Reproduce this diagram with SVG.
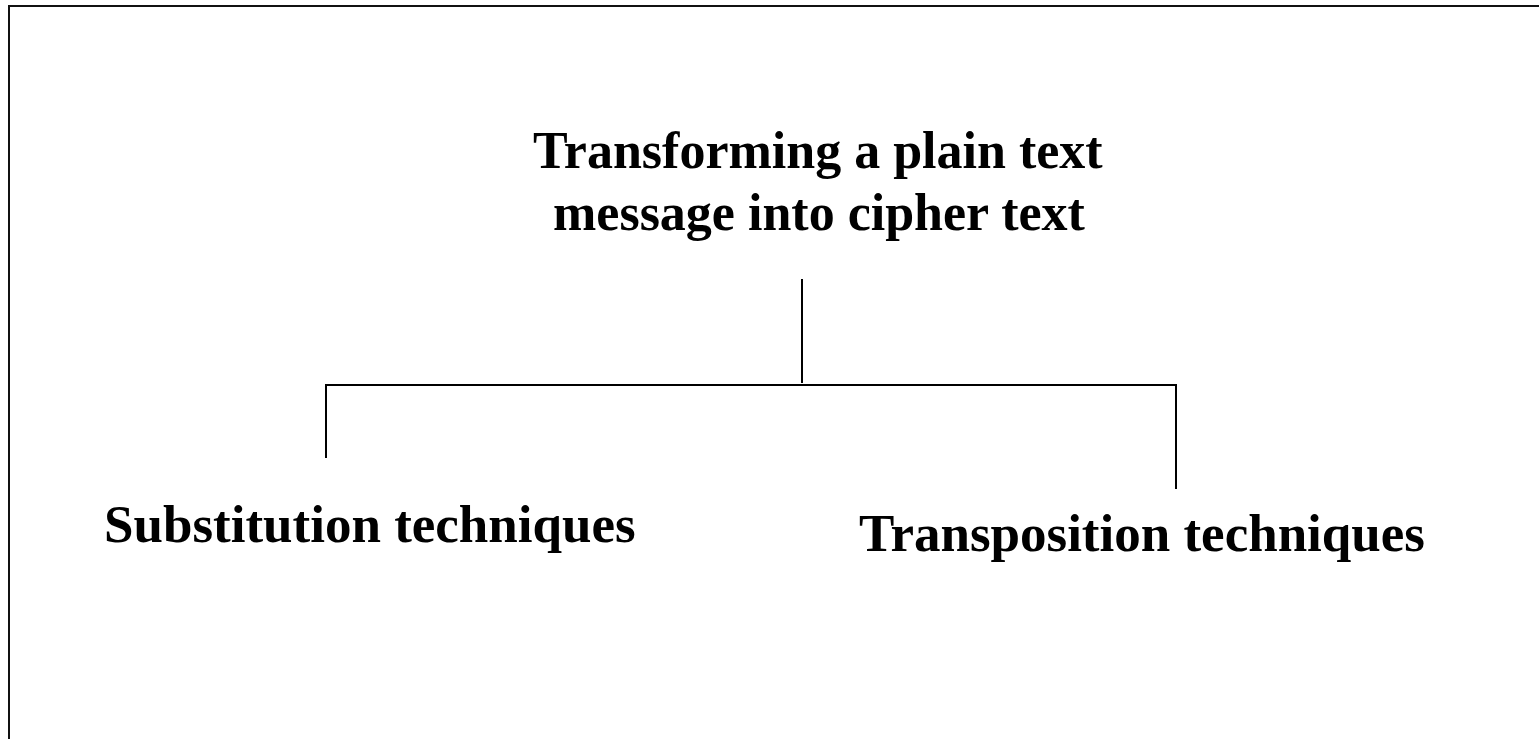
<svg xmlns="http://www.w3.org/2000/svg" width="1539" height="739" viewBox="0 0 1539 739">
  <style>
    .lbl { font-family: "Liberation Serif", "Times New Roman", serif; font-weight: bold; fill: #000; }
    .wire { stroke: #000; stroke-width: 2; fill: none; }
  </style>
  <rect x="0" y="0" width="1539" height="739" fill="#fff"/>
  <!-- outer frame, running off the right and bottom edges -->
  <path d="M9,745 V6 H1545" fill="none" stroke="#111" stroke-width="2"/>

  <g id="root">
    <text class="lbl" font-size="52" x="533" y="168">Transforming a plain text</text>
    <text class="lbl" font-size="52" x="553" y="230">message into cipher text</text>
  </g>

  <g id="connectors">
    <line class="wire" x1="802" y1="279" x2="802" y2="383"/>
    <line class="wire" x1="325" y1="385" x2="1177" y2="385"/>
    <line class="wire" x1="326" y1="384" x2="326" y2="458"/>
    <line class="wire" x1="1176" y1="384" x2="1176" y2="489"/>
  </g>

  <g id="substitution">
    <text class="lbl" font-size="53" x="104" y="542">Substitution techniques</text>
  </g>

  <g id="transposition">
    <text class="lbl" font-size="53" x="859" y="551">Transposition techniques</text>
  </g>
</svg>
